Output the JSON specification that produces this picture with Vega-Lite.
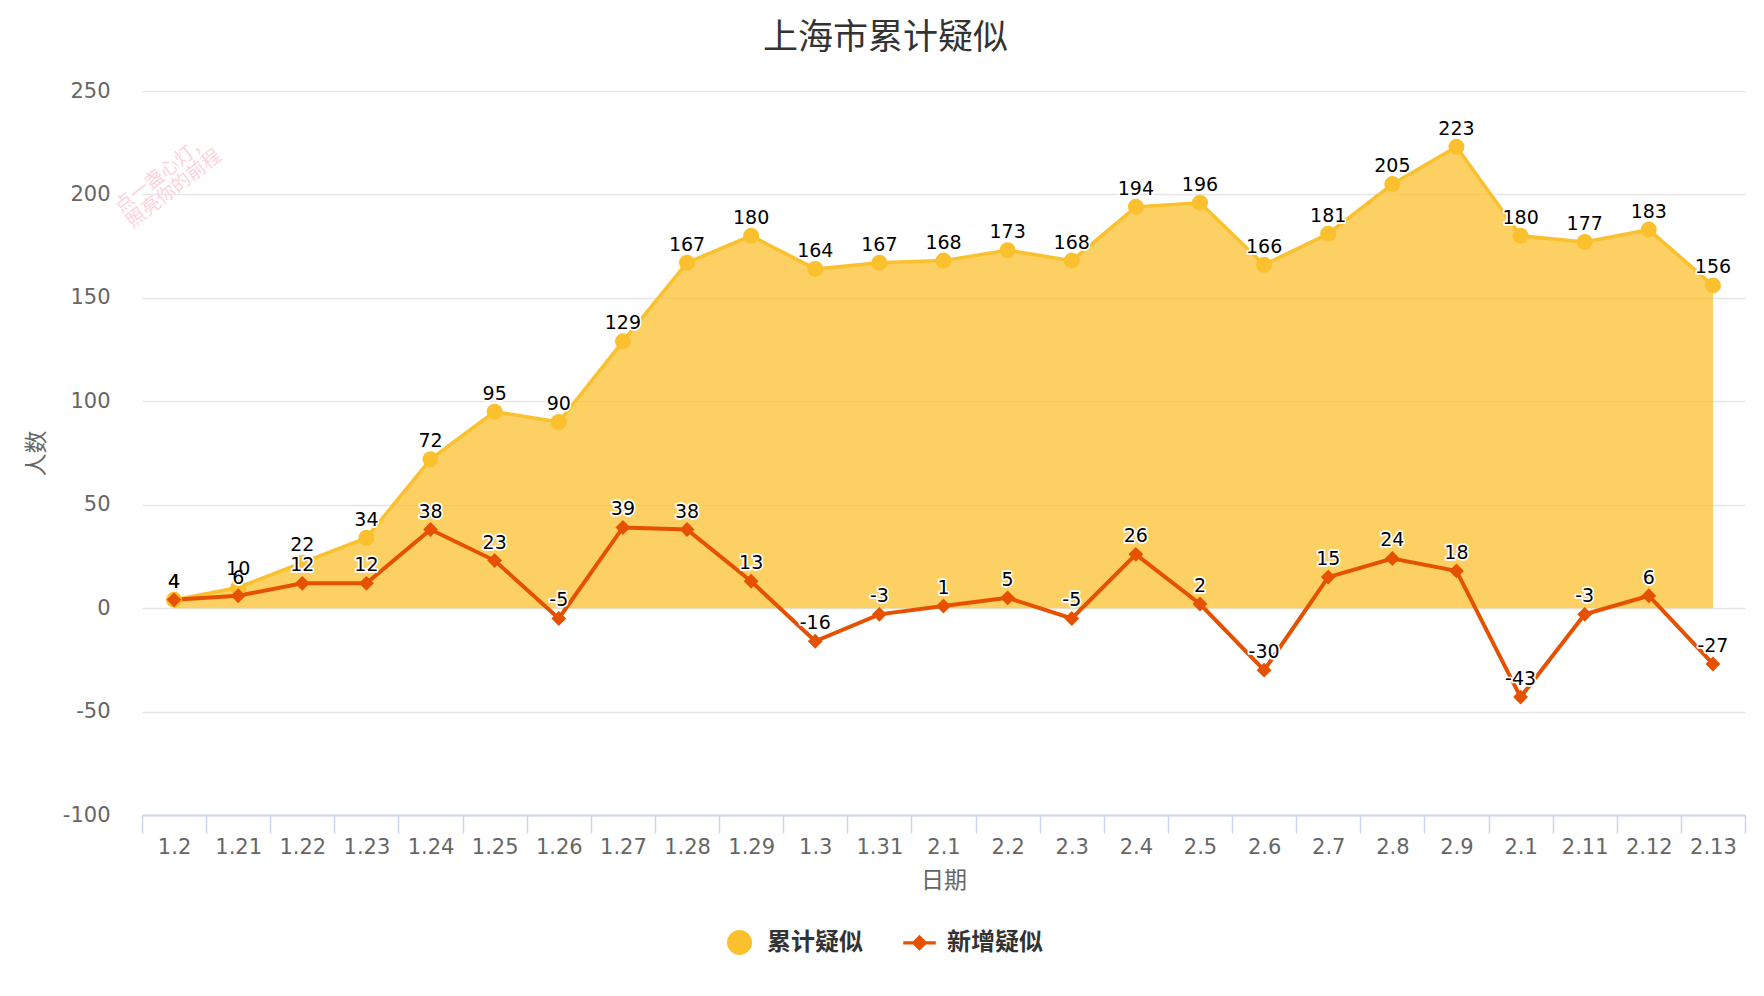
{
  "$schema": "https://vega.github.io/schema/vega-lite/v6.json",
  "width": 1603,
  "height": 724,
  "autosize": {"type": "none"},
  "padding": {"left": 142, "top": 91, "right": 19, "bottom": 181},
  "title": {
    "text": "上海市累计疑似",
    "anchor": "middle",
    "frame": "bounds",
    "font": "Noto Sans CJK SC",
    "fontSize": 35,
    "fontWeight": "normal",
    "color": "#333333",
    "offset": 24
  },
  "data": {
    "values": [
      {"d": "1.20", "s": "累计疑似", "v": 4}, {"d": "1.20", "s": "新增疑似", "v": 4},
      {"d": "1.21", "s": "累计疑似", "v": 10}, {"d": "1.21", "s": "新增疑似", "v": 6},
      {"d": "1.22", "s": "累计疑似", "v": 22}, {"d": "1.22", "s": "新增疑似", "v": 12},
      {"d": "1.23", "s": "累计疑似", "v": 34}, {"d": "1.23", "s": "新增疑似", "v": 12},
      {"d": "1.24", "s": "累计疑似", "v": 72}, {"d": "1.24", "s": "新增疑似", "v": 38},
      {"d": "1.25", "s": "累计疑似", "v": 95}, {"d": "1.25", "s": "新增疑似", "v": 23},
      {"d": "1.26", "s": "累计疑似", "v": 90}, {"d": "1.26", "s": "新增疑似", "v": -5},
      {"d": "1.27", "s": "累计疑似", "v": 129}, {"d": "1.27", "s": "新增疑似", "v": 39},
      {"d": "1.28", "s": "累计疑似", "v": 167}, {"d": "1.28", "s": "新增疑似", "v": 38},
      {"d": "1.29", "s": "累计疑似", "v": 180}, {"d": "1.29", "s": "新增疑似", "v": 13},
      {"d": "1.30", "s": "累计疑似", "v": 164}, {"d": "1.30", "s": "新增疑似", "v": -16},
      {"d": "1.31", "s": "累计疑似", "v": 167}, {"d": "1.31", "s": "新增疑似", "v": -3},
      {"d": "2.1", "s": "累计疑似", "v": 168}, {"d": "2.1", "s": "新增疑似", "v": 1},
      {"d": "2.2", "s": "累计疑似", "v": 173}, {"d": "2.2", "s": "新增疑似", "v": 5},
      {"d": "2.3", "s": "累计疑似", "v": 168}, {"d": "2.3", "s": "新增疑似", "v": -5},
      {"d": "2.4", "s": "累计疑似", "v": 194}, {"d": "2.4", "s": "新增疑似", "v": 26},
      {"d": "2.5", "s": "累计疑似", "v": 196}, {"d": "2.5", "s": "新增疑似", "v": 2},
      {"d": "2.6", "s": "累计疑似", "v": 166}, {"d": "2.6", "s": "新增疑似", "v": -30},
      {"d": "2.7", "s": "累计疑似", "v": 181}, {"d": "2.7", "s": "新增疑似", "v": 15},
      {"d": "2.8", "s": "累计疑似", "v": 205}, {"d": "2.8", "s": "新增疑似", "v": 24},
      {"d": "2.9", "s": "累计疑似", "v": 223}, {"d": "2.9", "s": "新增疑似", "v": 18},
      {"d": "2.10", "s": "累计疑似", "v": 180}, {"d": "2.10", "s": "新增疑似", "v": -43},
      {"d": "2.11", "s": "累计疑似", "v": 177}, {"d": "2.11", "s": "新增疑似", "v": -3},
      {"d": "2.12", "s": "累计疑似", "v": 183}, {"d": "2.12", "s": "新增疑似", "v": 6},
      {"d": "2.13", "s": "累计疑似", "v": 156}, {"d": "2.13", "s": "新增疑似", "v": -27}
    ]
  },
  "layer": [
    {
      "encoding": {
        "x": {
          "field": "d",
          "type": "ordinal",
          "sort": null,
          "scale": {"type": "band", "paddingInner": 0, "paddingOuter": 0},
          "axis": {
            "title": "日期",
            "titleFont": "Noto Sans CJK SC",
            "titleFontSize": 23,
            "titleFontWeight": "normal",
            "titleColor": "#666666",
            "titlePadding": 12,
            "labelAngle": 0,
            "labelFontSize": 21,
            "labelColor": "#666666",
            "labelPadding": 3,
            "labelExpr": "slice(datum.label, -1) === '0' ? slice(datum.label, 0, -1) : datum.label",
            "tickBand": "extent",
            "bandPosition": 0.5,
            "tickSize": 18,
            "tickColor": "#ccd6eb",
            "tickWidth": 1.5,
            "domainColor": "#ccd6eb",
            "domainWidth": 2,
            "grid": false
          }
        },
        "y": {
          "field": "v",
          "type": "quantitative",
          "scale": {"domain": [-100, 250], "nice": false, "zero": false},
          "axis": {
            "title": "人数",
            "titleFont": "Noto Sans CJK SC",
            "titleFontSize": 23,
            "titleFontWeight": "normal",
            "titleColor": "#666666",
            "titlePadding": 14,
            "values": [-100, -50, 0, 50, 100, 150, 200, 250],
            "labelExpr": "toString(datum.value)",
            "labelFontSize": 21,
            "labelColor": "#666666",
            "labelPadding": 32,
            "ticks": false,
            "domain": false,
            "grid": true,
            "gridColor": "#e6e6e6",
            "gridWidth": 1.5
          }
        },
        "color": {
          "field": "s",
          "type": "nominal",
          "scale": {"domain": ["累计疑似", "新增疑似"], "range": ["#FBC02D", "#E65100"]},
          "legend": {
            "orient": "none",
            "legendX": 585,
            "legendY": 839,
            "direction": "horizontal",
            "title": null,
            "padding": 0,
            "symbolSize": 625,
            "symbolType": "circle",
            "symbolStrokeWidth": 0,
            "labelFont": "Noto Sans CJK SC",
            "labelFontSize": 24,
            "labelFontWeight": "bold",
            "labelColor": "#333333",
            "labelOffset": 15,
            "columnPadding": 40,
            "encode": {
              "symbols": {
                "update": {
                  "shape": {"signal": "datum.value === '新增疑似' ? 'M-1.3,-0.13L-0.51,-0.13L0,-0.64L0.51,-0.13L1.3,-0.13L1.3,0.13L0.51,0.13L0,0.64L-0.51,0.13L-1.3,0.13Z' : 'circle'"},
                  "fill": {"signal": "datum.value === '新增疑似' ? '#E65100' : '#FBC02D'"},
                  "fillOpacity": {"value": 1},
                  "opacity": {"value": 1},
                  "strokeWidth": {"value": 0},
                  "size": {"value": 625}
                }
              }
            }
          }
        }
      },
      "layer": [
        {
          "transform": [{"filter": "datum.s === '累计疑似'"}],
          "mark": {"type": "area", "fillOpacity": 0.75},
          "encoding": {"color": {"value": "#FBC02D"}}
        },
        {
          "transform": [{"filter": "datum.s === '累计疑似'"}],
          "mark": {"type": "line", "strokeWidth": 3.5}
        },
        {
          "transform": [{"filter": "datum.s === '新增疑似'"}],
          "mark": {"type": "line", "strokeWidth": 4}
        },
        {
          "transform": [{"filter": "datum.s === '累计疑似'"}],
          "mark": {"type": "point", "shape": "circle", "filled": true, "size": 256, "opacity": 1}
        },
        {
          "transform": [{"filter": "datum.s === '新增疑似'"}],
          "mark": {"type": "point", "shape": "diamond", "filled": true, "size": 220, "opacity": 1}
        },
        {
          "mark": {
            "type": "text",
            "fontSize": 19,
            "baseline": "alphabetic",
            "dy": -12,
            "stroke": "white",
            "strokeWidth": 3.5,
            "strokeJoin": "round"
          },
          "encoding": {
            "text": {"field": "v", "type": "nominal"},
            "color": {"value": "white"}
          }
        },
        {
          "mark": {
            "type": "text",
            "fontSize": 19,
            "baseline": "alphabetic",
            "dy": -12
          },
          "encoding": {
            "text": {"field": "v", "type": "nominal"},
            "color": {"value": "black"}
          }
        }
      ]
    },
    {
      "data": {"values": [{"wm": "点一盏心灯，\n照亮你的前程"}]},
      "mark": {
        "type": "text",
        "font": "Noto Sans CJK SC",
        "fontSize": 19,
        "lineHeight": 19,
        "lineBreak": "\n",
        "angle": 322,
        "align": "center",
        "baseline": "middle",
        "xOffset": -12,
        "color": "#fcd3da"
      },
      "encoding": {
        "x": {"datum": "1.20", "type": "ordinal"},
        "y": {"datum": 210, "type": "quantitative"},
        "text": {"field": "wm", "type": "nominal"}
      }
    }
  ],
  "config": {
    "font": "DejaVu Sans",
    "view": {"stroke": null}
  }
}
